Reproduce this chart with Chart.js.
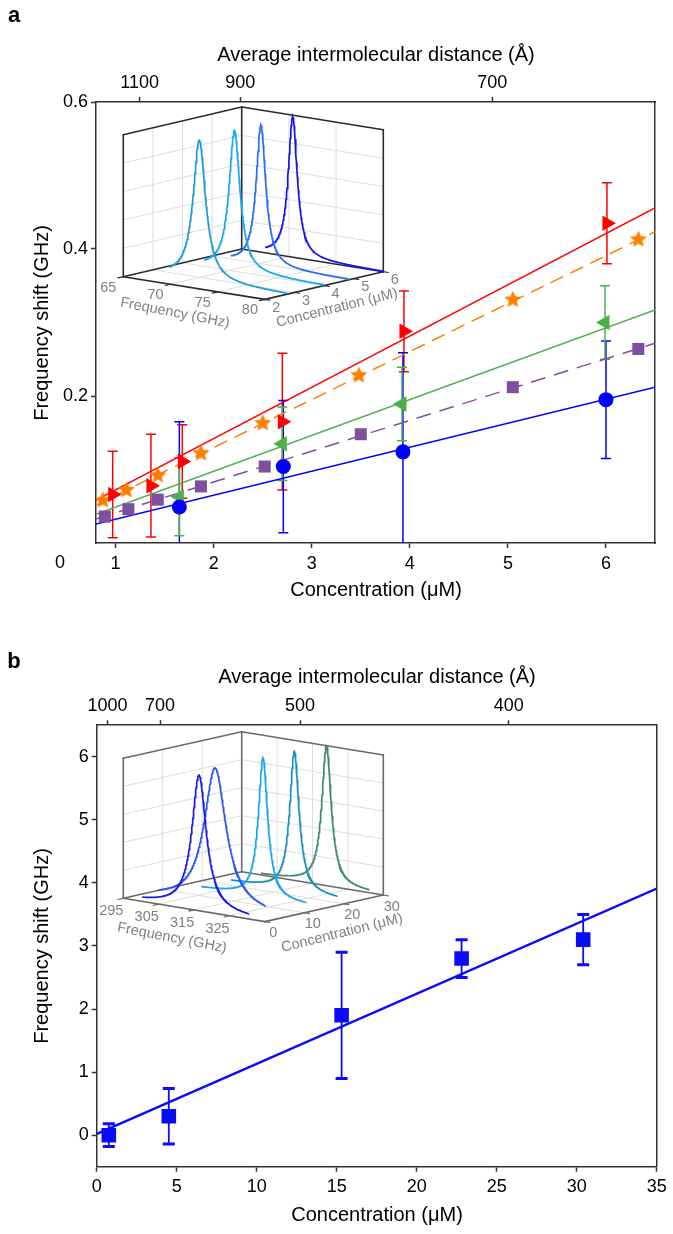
<!DOCTYPE html>
<html>
<head>
<meta charset="utf-8">
<script src="https://cdn.jsdelivr.net/npm/chart.js@4.4.1/dist/chart.umd.min.js"></script>
<style>
  html, body { margin: 0; padding: 0; background: #fff; }
  .panel { position: relative; width: 673px; }
  .panel canvas { position: absolute; left: 0; top: 0; }
</style>
</head>
<body>
<div class="panel" style="height:620px"><canvas id="chartA" width="673" height="620"></canvas><canvas id="insetA" width="673" height="620"></canvas></div>
<div class="panel" style="height:614px"><canvas id="chartB" width="673" height="614"></canvas><canvas id="insetB" width="673" height="614"></canvas></div>
<script>
// ---------- panel a data ----------
const aXTicks = [1, 2, 3, 4, 5, 6];
const aYTicks = [0.2, 0.4, 0.6];
const aTopTickPos = [1.245, 2.27, 4.84];
const aTopTickLabels = ['1100', '900', '700'];

const redX = [0.97, 1.36, 1.68, 2.70, 3.94, 6.01];
const redY = [0.066, 0.078, 0.111, 0.165, 0.288, 0.435];
const redErr = [0.059, 0.07, 0.05, 0.093, 0.055, 0.055];
const orangeX = [0.87, 1.11, 1.43, 1.87, 2.50, 3.48, 5.05, 6.33];
const orangeY = [0.058, 0.072, 0.092, 0.122, 0.163, 0.228, 0.331, 0.413];
const greenX = [1.65, 2.70, 3.92, 5.99];
const greenY = [0.063, 0.135, 0.189, 0.300];
const greenErr = [0.053, 0.05, 0.05, 0.05];
const purpleX = [0.89, 1.13, 1.43, 1.87, 2.52, 3.50, 5.05, 6.33];
const purpleY = [0.036, 0.046, 0.059, 0.077, 0.104, 0.148, 0.212, 0.264];
const blueX = [1.65, 2.71, 3.93, 6.0];
const blueY = [0.049, 0.104, 0.124, 0.195];
const blueErr = [0.116, 0.09, 0.135, 0.08];

// fitted lines, read at both edges of the plot
const aFitX = [0.8, 6.5];
const redFit = [0.0585, 0.456];
const orangeFit = [0.0517, 0.4235];
const greenFit = [0.039, 0.317];
const purpleFit = [0.0327, 0.2717];
const blueFit = [0.0258, 0.2118];

// inset a: Lorentzian spectra
const insAConc = [2.75, 4.0, 4.83, 6.0];
const insACentre = [70.7, 70.5, 70.7, 70.4];
const insAHalfWidth = [0.8, 0.7, 0.62, 0.58];
const insAStart = [67.5, 67.3, 67.5, 67.5];
const insAEnd = [80, 80, 80, 80];
const insAPeak = [0.985, 0.99, 0.99, 0.99];
const insAColors = ['#1b9bd7', '#14aaf2', '#2a6cf7', '#1515ef'];
const insAFreqTicks = [65, 70, 75, 80];
const insAConcTicks = [2, 3, 4, 5, 6];

// ---------- panel b data ----------
const bXTicks = [0, 5, 10, 15, 20, 25, 30, 35];
const bYTicks = [0, 1, 2, 3, 4, 5, 6];
const bTopTickPos = [0.67, 3.95, 12.7, 25.75];
const bTopTickLabels = ['1000', '700', '500', '400'];
const bX = [0.75, 4.5, 15.3, 22.8, 30.4];
const bY = [0.0, 0.3, 1.9, 2.8, 3.1];
const bErr = [0.18, 0.44, 1.0, 0.3, 0.4];
const bFitX = [0, 35];
const bFit = [0.02, 3.91];

const insBConc = [0.8, 4.5, 15.3, 22.8, 30.4];
const insBCentre = [315.5, 315.9, 317.4, 317.9, 318.5];
const insBHalfWidth = [2.45, 3.75, 1.6, 1.6, 1.6];
const insBStart = [299.5, 300, 300, 300, 300];
const insBEnd = [329.5, 330, 329.5, 330, 330.5];
const insBPeak = [0.96, 0.99, 1.0, 1.0, 1.0];
const insBColors = ['#1a1ae6', '#2a55f5', '#1aa6ee', '#1a8fc4', '#3d8b6e'];
const insBFreqTicks = [295, 305, 315, 325];
const insBConcTicks = [0, 10, 20, 30];

// ---------- helpers ----------
const FONT = "'Liberation Sans', Arial, Helvetica, sans-serif";
Chart.defaults.font.family = FONT;
Chart.defaults.color = '#000';

const pts = (xs, ys) => xs.map((x, i) => ({ x: x, y: ys[i] }));

function starImage(color, r) {
  const c = document.createElement('canvas');
  const s = Math.ceil(2 * r + 2);
  c.width = s; c.height = s;
  const g = c.getContext('2d');
  g.fillStyle = color;
  g.beginPath();
  for (let k = 0; k < 10; k++) {
    const rad = k % 2 ? r * 0.47 : r;
    const ang = -Math.PI / 2 + k * Math.PI / 5;
    g.lineTo(s / 2 + rad * Math.cos(ang), s / 2 + rad * Math.sin(ang));
  }
  g.closePath();
  g.fill();
  return c;
}

function errorBarsPlugin(o) {
  return {
    id: 'errorBars',
    beforeDatasetsDraw(chart) {
      const { ctx, chartArea: a, scales: { x, y } } = chart;
      ctx.save();
      ctx.beginPath();
      ctx.rect(a.left, a.top, a.right - a.left, a.bottom - a.top);
      ctx.clip();
      chart.data.datasets.forEach(ds => {
        if (!ds.errors) return;
        ctx.strokeStyle = ds.pointBackgroundColor;
        ds.data.forEach((p, i) => {
          const e = ds.errors[i];
          const px = x.getPixelForValue(p.x);
          const top = y.getPixelForValue(p.y + e);
          const bot = y.getPixelForValue(p.y - e);
          ctx.lineWidth = o.width;
          ctx.beginPath(); ctx.moveTo(px, top); ctx.lineTo(px, bot); ctx.stroke();
          ctx.lineWidth = o.capWidth;
          ctx.beginPath();
          ctx.moveTo(px - o.cap, top); ctx.lineTo(px + o.cap, top);
          ctx.moveTo(px - o.cap, bot); ctx.lineTo(px + o.cap, bot);
          ctx.stroke();
        });
      });
      ctx.restore();
    }
  };
}

function textPlugin(items) {
  return {
    id: 'texts',
    afterDraw(chart) {
      const ctx = chart.ctx;
      items.forEach(t => {
        ctx.save();
        ctx.translate(t.x, t.y);
        ctx.rotate((t.rot || 0) * Math.PI / 180);
        ctx.font = t.font;
        ctx.fillStyle = t.color || '#000';
        ctx.textAlign = t.align || 'center';
        ctx.textBaseline = 'middle';
        ctx.fillText(t.text, 0, 0);
        ctx.restore();
      });
    }
  };
}

const axGrid = { display: true, drawOnChartArea: false, drawTicks: true, tickLength: 5, tickWidth: 1.5, tickColor: '#333' };
const axBorder = { display: true, color: '#333', width: 1.5 };
const tickFont = { size: 18 };

function frameScales(cfg) {
  return {
    x: {
      type: 'linear', position: 'bottom', min: cfg.xMin, max: cfg.xMax,
      afterBuildTicks: s => { s.ticks = cfg.xTicks.map(v => ({ value: v })); },
      ticks: { font: tickFont, padding: 5, maxRotation: 0, callback: v => String(v) },
      grid: axGrid, border: axBorder,
      afterFit: s => { s.height = cfg.bottom; }
    },
    x2: {
      type: 'linear', position: 'top', min: cfg.xMin, max: cfg.xMax,
      afterBuildTicks: s => { s.ticks = cfg.topPos.map(v => ({ value: v })); },
      ticks: { font: tickFont, padding: 3, maxRotation: 0, callback: (v, i) => cfg.topLabels[i] },
      grid: axGrid, border: axBorder,
      afterFit: s => { s.height = cfg.top; }
    },
    y: {
      type: 'linear', position: 'left', min: cfg.yMin, max: cfg.yMax,
      afterBuildTicks: s => { s.ticks = cfg.yTicks.map(v => ({ value: v })); },
      ticks: { font: tickFont, padding: 3, callback: cfg.yFmt },
      grid: axGrid, border: axBorder,
      afterFit: s => { s.width = cfg.left; }
    },
    y2: {
      type: 'linear', position: 'right', min: 0, max: 1,
      ticks: { display: false }, grid: { display: false }, border: axBorder,
      afterFit: s => { s.width = cfg.right; }
    }
  };
}

function markerSet(xs, ys, errs, color, style, radius, rot) {
  return {
    data: pts(xs, ys), errors: errs, showLine: false,
    pointStyle: style, pointRadius: radius, pointRotation: rot || 0,
    pointBackgroundColor: color, pointBorderColor: color, pointBorderWidth: 0,
    backgroundColor: color, borderColor: color
  };
}
function fitSet(xs, ys, color, width, dash) {
  return {
    data: pts(xs, ys), showLine: true, pointRadius: 0, borderColor: color,
    borderWidth: width, borderDash: dash || [], fill: false, tension: 0
  };
}

// 3D waterfall inset drawn in its own chart, pixel scales, projected coordinates
function insetChart(id, g, c) {
  const F = [g.L[0] + g.R[0] - g.B[0], g.L[1] + g.R[1] - g.B[1]];
  const proj = (f, cc, z) => {
    const a = (f - g.f0) / (g.f1 - g.f0), b = (cc - g.c0) / (g.c1 - g.c0);
    return {
      x: g.L[0] + a * (F[0] - g.L[0]) + b * (g.R[0] - F[0]),
      y: g.L[1] + a * (F[1] - g.L[1]) + b * (g.R[1] - F[1]) - z * g.H
    };
  };
  const datasets = c.conc.map((cc, i) => {
    const d = [];
    for (let f = c.start[i]; f <= c.end[i] + 1e-9; f += c.step) {
      const u = (f - c.centre[i]) / c.hw[i];
      d.push(proj(f, cc, c.peak[i] / (1 + u * u)));
    }
    return { data: d, showLine: true, pointRadius: 0, borderColor: c.colors[i], borderWidth: 1.7, fill: false, tension: 0 };
  });
  const canvas = document.getElementById(id);
  const boxPlugin = {
    id: 'box3d',
    beforeDatasetsDraw(chart) {
      const { ctx, scales: { x, y } } = chart;
      const line = (p, q, col, w) => {
        ctx.strokeStyle = col; ctx.lineWidth = w;
        ctx.beginPath();
        ctx.moveTo(x.getPixelForValue(p.x), y.getPixelForValue(p.y));
        ctx.lineTo(x.getPixelForValue(q.x), y.getPixelForValue(q.y));
        ctx.stroke();
      };
      ctx.save();
      ctx.lineCap = 'round';
      const gc = '#dddddd';
      g.fTicks.forEach(f => {
        if (f <= g.f0 || f >= g.f1) return;
        line(proj(f, g.c0, 0), proj(f, g.c1, 0), gc, 1);
        line(proj(f, g.c1, 0), proj(f, g.c1, 1), gc, 1);
      });
      g.cTicks.forEach(cc => {
        if (cc <= g.c0 || cc >= g.c1) return;
        line(proj(g.f0, cc, 0), proj(g.f1, cc, 0), gc, 1);
        line(proj(g.f0, cc, 0), proj(g.f0, cc, 1), gc, 1);
      });
      g.zTicks.forEach(z => {
        line(proj(g.f0, g.c0, z), proj(g.f0, g.c1, z), gc, 1);
        line(proj(g.f0, g.c1, z), proj(g.f1, g.c1, z), gc, 1);
      });
      const ec = g.edge, ew = 1.6;
      line(proj(g.f0, g.c0, 0), proj(g.f0, g.c0, 1), ec, ew);
      line(proj(g.f0, g.c1, 0), proj(g.f0, g.c1, 1), ec, ew);
      line(proj(g.f1, g.c1, 0), proj(g.f1, g.c1, 1), ec, ew);
      line(proj(g.f0, g.c0, 1), proj(g.f0, g.c1, 1), ec, ew);
      line(proj(g.f0, g.c1, 1), proj(g.f1, g.c1, 1), ec, ew);
      line(proj(g.f0, g.c0, 0), proj(g.f0, g.c1, 0), ec, ew);
      line(proj(g.f0, g.c1, 0), proj(g.f1, g.c1, 0), ec, ew);
      line(proj(g.f0, g.c0, 0), proj(g.f1, g.c0, 0), ec, ew);
      line(proj(g.f1, g.c0, 0), proj(g.f1, g.c1, 0), ec, ew);
      // small ticks on the two front floor edges
      const dc = (g.c1 - g.c0) * 0.045, df = (g.f1 - g.f0) * 0.035;
      g.fTicks.forEach(f => line(proj(f, g.c0, 0), proj(f, g.c0 - dc, 0), ec, 1.2));
      g.cTicks.forEach(cc => line(proj(g.f1, cc, 0), proj(g.f1 + df, cc, 0), ec, 1.2));
      ctx.restore();
    },
    afterDraw(chart) {
      const ctx = chart.ctx;
      const put = (text, p, dx, dy, rot) => {
        ctx.save();
        ctx.translate(p.x + dx, p.y + dy);
        ctx.rotate((rot || 0) * Math.PI / 180);
        ctx.font = '14.5px ' + FONT;
        ctx.fillStyle = '#808080';
        ctx.textAlign = 'center';
        ctx.textBaseline = 'middle';
        ctx.fillText(text, 0, 0);
        ctx.restore();
      };
      g.fTicks.forEach(f => put(String(f), proj(f, g.c0, 0), g.fOff[0], g.fOff[1]));
      g.cTicks.forEach(cc => put(String(cc), proj(g.f1, cc, 0), g.cOff[0], g.cOff[1]));
      put('Frequency (GHz)', g.fTitle, 0, 0, g.fRot);
      put('Concentration (\u03bcM)', g.cTitle, 0, 0, g.cRot);
    }
  };
  return new Chart(canvas, {
    type: 'scatter',
    data: { datasets: datasets },
    options: {
      responsive: false, animation: false, devicePixelRatio: 1,
      layout: { padding: 0 },
      scales: {
        x: { type: 'linear', display: false, min: 0, max: canvas.width },
        y: { type: 'linear', display: false, min: 0, max: canvas.height, reverse: true }
      },
      plugins: { legend: { display: false }, tooltip: { enabled: false } },
      clip: false
    },
    plugins: [boxPlugin]
  });
}

const titleFont = '20px ' + FONT;
const star = starImage('#ff8000', 9);

// ---------- panel a ----------
new Chart(document.getElementById('chartA'), {
  type: 'scatter',
  data: {
    datasets: [
      markerSet(redX, redY, redErr, '#ff0000', 'triangle', 9, 90),
      markerSet(blueX, blueY, blueErr, '#0000ff', 'circle', 7.5),
      markerSet(greenX, greenY, greenErr, '#4caf4a', 'triangle', 9, -90),
      markerSet(orangeX, orangeY, null, '#ff8000', star, 9),
      markerSet(purpleX, purpleY, null, '#7d4f9e', 'rect', 8.5),
      fitSet(aFitX, redFit, '#ff0000', 1.5),
      fitSet(aFitX, orangeFit, '#ff8000', 1.5, [14, 8]),
      fitSet(aFitX, greenFit, '#4caf4a', 1.5),
      fitSet(aFitX, purpleFit, '#8050a0', 1.5, [15, 9]),
      fitSet(aFitX, blueFit, '#0000ff', 1.5)
    ]
  },
  options: {
    responsive: false, animation: false, devicePixelRatio: 1,
    layout: { padding: 0 },
    scales: frameScales({
      xMin: 0.8, xMax: 6.5, yMin: 0, yMax: 0.6,
      xTicks: aXTicks, yTicks: aYTicks, topPos: aTopTickPos, topLabels: aTopTickLabels,
      yFmt: v => v.toFixed(1), left: 96, right: 18, top: 102, bottom: 77
    }),
    plugins: { legend: { display: false }, tooltip: { enabled: false } }
  },
  plugins: [
    errorBarsPlugin({ width: 1.5, capWidth: 1.5, cap: 5 }),
    textPlugin([
      { text: 'a', x: 14, y: 16, font: 'bold 22px ' + FONT },
      { text: 'Average intermolecular distance (\u00c5)', x: 376, y: 55, font: titleFont },
      { text: 'Frequency shift (GHz)', x: 42, y: 323, font: titleFont, rot: -90 },
      { text: 'Concentration (\u03bcM)', x: 376, y: 590, font: titleFont },
      { text: '0', x: 60, y: 563, font: '18px ' + FONT }
    ])
  ]
});

insetChart('insetA', {
  L: [123.3, 276.7], B: [241.7, 249], R: [383.3, 271.7], H: 142,
  f0: 65, f1: 80, c0: 2, c1: 6,
  fTicks: insAFreqTicks, cTicks: insAConcTicks, zTicks: [0.2, 0.4, 0.6, 0.8],
  edge: '#2a2a2a', fOff: [-15, 11], cOff: [11.5, 8.5],
  fTitle: { x: 175, y: 313 }, cTitle: { x: 337, y: 308 }, fRot: 11, cRot: -14
}, {
  conc: insAConc, centre: insACentre, hw: insAHalfWidth, start: insAStart, end: insAEnd,
  peak: insAPeak, colors: insAColors, step: 0.05
});

// ---------- panel b ----------
new Chart(document.getElementById('chartB'), {
  type: 'scatter',
  data: {
    datasets: [
      markerSet(bX, bY, bErr, '#0a0aff', 'rect', 10.3),
      fitSet(bFitX, bFit, '#0a0aff', 2.5)
    ]
  },
  options: {
    responsive: false, animation: false, devicePixelRatio: 1,
    layout: { padding: 0 },
    scales: frameScales({
      xMin: 0, xMax: 35, yMin: -0.5, yMax: 6.5,
      xTicks: bXTicks, yTicks: bYTicks, topPos: bTopTickPos, topLabels: bTopTickLabels,
      yFmt: v => String(v), left: 96.8, right: 16.2, top: 105.2, bottom: 67.3
    }),
    plugins: { legend: { display: false }, tooltip: { enabled: false } }
  },
  plugins: [
    errorBarsPlugin({ width: 1.8, capWidth: 3, cap: 6 }),
    textPlugin([
      { text: 'b', x: 14, y: 42, font: 'bold 22px ' + FONT },
      { text: 'Average intermolecular distance (\u00c5)', x: 377, y: 57, font: titleFont },
      { text: 'Frequency shift (GHz)', x: 42, y: 326, font: titleFont, rot: -90 },
      { text: 'Concentration (\u03bcM)', x: 377, y: 595, font: titleFont }
    ])
  ]
});

insetChart('insetB', {
  L: [123.3, 278.3], B: [241.7, 251.7], R: [383.3, 275], H: 140,
  f0: 295, f1: 335, c0: 0, c1: 30,
  fTicks: insBFreqTicks, cTicks: insBConcTicks, zTicks: [0.2, 0.4, 0.6, 0.8],
  edge: '#6a6a6a', fOff: [-12, 13], cOff: [8.5, 11.5],
  fTitle: { x: 172, y: 318 }, cTitle: { x: 342, y: 313 }, fRot: 11, cRot: -14
}, {
  conc: insBConc, centre: insBCentre, hw: insBHalfWidth, start: insBStart, end: insBEnd,
  peak: insBPeak, colors: insBColors, step: 0.1
});
</script>
</body>
</html>
